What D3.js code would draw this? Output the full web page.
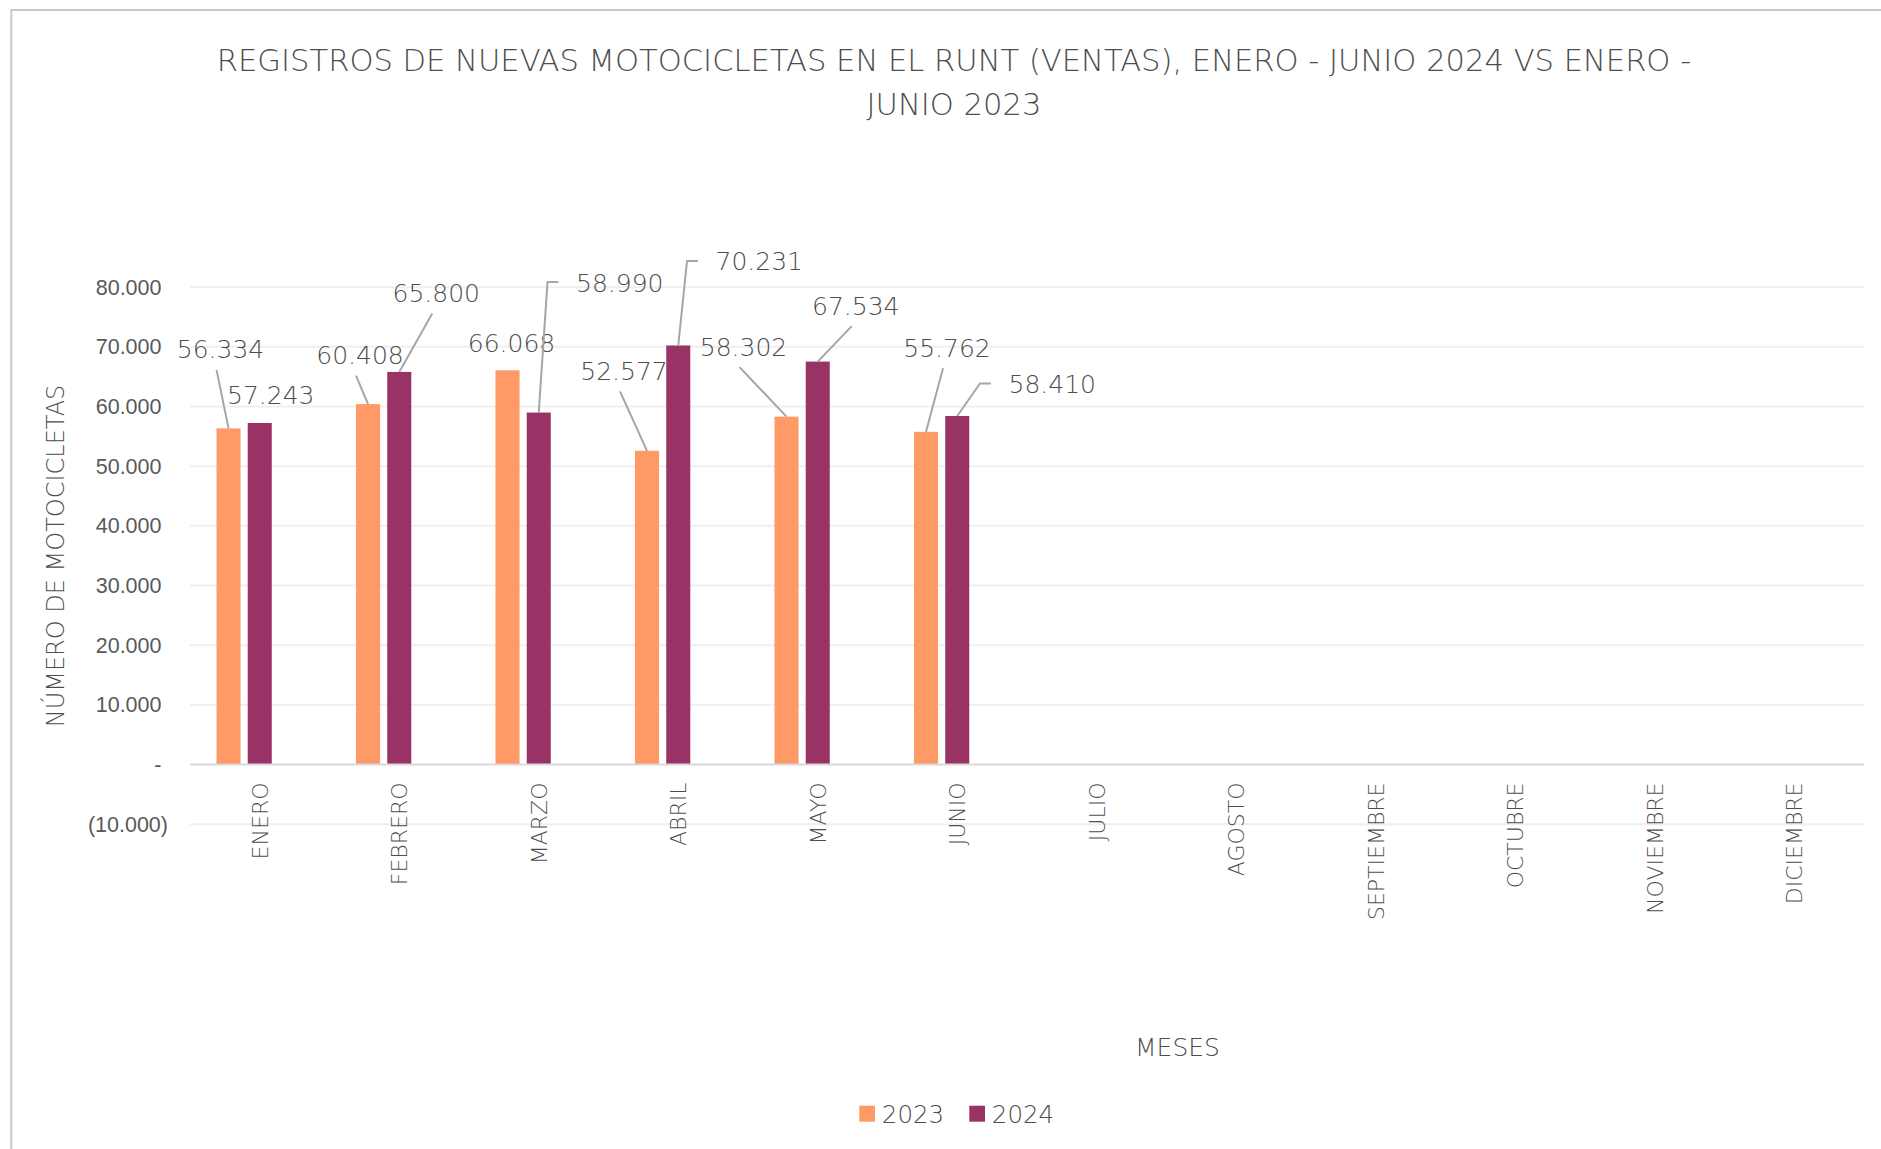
<!DOCTYPE html>
<html>
<head>
<meta charset="utf-8">
<script src="https://cdn.jsdelivr.net/npm/d3@7/dist/d3.min.js"></script>
<style>
  body { margin: 0; background: #fff; }
  text { font-family: "DejaVu Sans", sans-serif; fill: #4d4d4d; }
  .ytick text { font-family: "Liberation Sans", sans-serif; fill: #595959; }
</style>
</head>
<body>
<div id="chart"></div>
<script>
// chart data
var months = ["ENERO", "FEBRERO", "MARZO", "ABRIL", "MAYO", "JUNIO",
              "JULIO", "AGOSTO", "SEPTIEMBRE", "OCTUBRE", "NOVIEMBRE", "DICIEMBRE"];
var ventas2023 = [56334, 60408, 66068, 52577, 58302, 55762];
var ventas2024 = [57243, 65800, 58990, 70231, 67534, 58410];
var yTicks = [-10000, 0, 10000, 20000, 30000, 40000, 50000, 60000, 70000, 80000];
var seriesNames = ["2023", "2024"];
var titleLines = ["REGISTROS DE NUEVAS MOTOCICLETAS EN EL RUNT (VENTAS), ENERO - JUNIO 2024 VS ENERO -",
                  "JUNIO 2023"];

var colors = {"2023": "#FF9966", "2024": "#993366"};

// hand placed data labels (offset of label centre from bar top), as in the excel sheet
var labelNudge2023 = [[-8, -79], [-8, -49], [4, -27], [-23, -80], [-43, -70], [21, -84]];
var labelNudge2024 = [[11, -28], [37, -79], [81, -130], [81, -84], [38, -56], [95, -32]];

var width = 1881, height = 1149;
var margin = {top: 287.2, right: 17, bottom: 324.8, left: 190};

var svg = d3.select("#chart").append("svg")
    .attr("width", width)
    .attr("height", height);

// chart area border
svg.append("rect")
    .attr("x", 11.3).attr("y", 10)
    .attr("width", width + 20).attr("height", height + 20)
    .attr("fill", "none")
    .attr("stroke", "#C9C9C9")
    .attr("stroke-width", 2);

var x = d3.scaleBand()
    .domain(months)
    .range([margin.left, width - margin.right])
    .paddingInner(0.38)
    .paddingOuter(0.19);

// the sheet has a third, empty series slot in every cluster
var xSeries = d3.scaleBand()
    .domain(seriesNames.concat(["vacía"]))
    .range([0, x.bandwidth()])
    .paddingInner(0.23);

var y = d3.scaleLinear()
    .domain([0, 80000])
    .range([764.5, margin.top]);

var locale = d3.formatLocale({decimal: ",", thousands: ".", grouping: [3], currency: ["$", ""]});
var fmt = locale.format(",.0f");
function tickFmt(v) {
    if (v === 0) return "-";
    if (v < 0) return "(" + fmt(-v) + ")";
    return fmt(v);
}

// gridlines
svg.append("g")
    .selectAll("line")
    .data(yTicks.filter(function(d) { return d !== 0; }))
    .enter().append("line")
    .attr("x1", margin.left).attr("x2", width - margin.right)
    .attr("y1", function(d) { return y(d); })
    .attr("y2", function(d) { return y(d); })
    .attr("stroke", "#EFEFEF")
    .attr("stroke-width", 2);

// y axis labels
var yAxis = svg.append("g")
    .attr("class", "ytick")
    .attr("transform", "translate(168,0)")
    .call(d3.axisLeft(y).tickValues(yTicks).tickFormat(tickFmt).tickSize(0).tickPadding(0));
yAxis.select(".domain").remove();
yAxis.selectAll("text")
    .style("font-size", "21.5px")
    .attr("dx", function(d) { return d < 0 ? 0 : -6.5; });

// data
var rows = [];
ventas2023.forEach(function(v, i) {
    rows.push({month: months[i], serie: "2023", value: v, nudge: labelNudge2023[i]});
});
ventas2024.forEach(function(v, i) {
    rows.push({month: months[i], serie: "2024", value: v, nudge: labelNudge2024[i]});
});

function barCx(d) { return x(d.month) + xSeries(d.serie) + xSeries.bandwidth() / 2; }

svg.append("g")
    .selectAll(".bar")
    .data(rows)
    .enter().append("rect")
    .attr("class", "bar")
    .attr("x", function(d) { return x(d.month) + xSeries(d.serie); })
    .attr("y", function(d) { return y(d.value); })
    .attr("width", xSeries.bandwidth())
    .attr("height", function(d) { return y(0) - y(d.value); })
    .attr("fill", function(d) { return colors[d.serie]; });

// zero line
svg.append("line")
    .attr("x1", margin.left).attr("x2", width - margin.right)
    .attr("y1", y(0)).attr("y2", y(0))
    .attr("stroke", "#D9D9D9")
    .attr("stroke-width", 2);

// month labels
svg.append("g")
    .selectAll("text")
    .data(months)
    .enter().append("text")
    .attr("transform", function(d) {
        return "translate(" + (x(d) + x.bandwidth() / 2) + "," + (y(0) + 18) + ") rotate(-90)";
    })
    .attr("text-anchor", "end")
    .attr("dy", "0.36em")
    .attr("font-size", 22)
    .attr("font-weight", 300)
    .text(function(d) { return d; });

// leader lines + data labels
var labelG = svg.append("g");
rows.forEach(function(d) {
    var bx = barCx(d), by = y(d.value);
    var lx = bx + d.nudge[0], ly = by + d.nudge[1];
    var t = labelG.append("text")
        .attr("x", lx).attr("y", ly)
        .attr("text-anchor", "middle")
        .attr("dy", "0.36em")
        .attr("font-size", 25)
        .attr("font-weight", 300)
        .text(fmt(d.value));
    var half = t.node().getComputedTextLength() / 2;
    var path = null;
    if (lx - half > bx + 10) {
        var sx = lx - half - 17.5;
        path = [[sx, ly - 0.5], [sx - 11, ly - 0.5], [bx, by]];
    } else if (d.nudge[1] < -35) {
        path = [[lx - 4, ly + 20.5], [bx, by]];
    }
    if (path) {
        labelG.append("path")
            .attr("d", d3.line()(path))
            .attr("fill", "none")
            .attr("stroke", "#A6A6A6")
            .attr("stroke-width", 2);
    }
});

// title
var title = svg.append("text")
    .attr("text-anchor", "middle")
    .attr("font-size", 28)
    .attr("font-weight", 300);
title.append("tspan").attr("x", 954).attr("y", 70.5).text(titleLines[0]);
title.append("tspan").attr("x", 954).attr("y", 114.5).text(titleLines[1]);
var w0 = title.select("tspan").node().getComputedTextLength();
title.attr("font-size", 28 * 1475 / w0);

// axis titles
svg.append("text")
    .attr("transform", "translate(55.5,556) rotate(-90)")
    .attr("text-anchor", "middle")
    .attr("dy", "0.36em")
    .attr("font-size", 24)
    .attr("font-weight", 300)
    .text("NÚMERO DE MOTOCICLETAS");

svg.append("text")
    .attr("x", 1177.5).attr("y", 1056)
    .attr("text-anchor", "middle")
    .attr("font-size", 25)
    .attr("font-weight", 300)
    .text("MESES");

// legend
var legendX = d3.scaleOrdinal().domain(seriesNames).range([859.3, 969.3]);
var legend = svg.append("g")
    .selectAll("g")
    .data(seriesNames)
    .enter().append("g")
    .attr("transform", function(d) { return "translate(" + legendX(d) + ",1105.7)"; });
legend.append("rect")
    .attr("width", 15.7).attr("height", 16)
    .attr("fill", function(d) { return colors[d]; });
legend.append("text")
    .attr("x", 22.5).attr("y", 17.6)
    .attr("font-size", 24.5)
    .attr("font-weight", 300)
    .text(function(d) { return d; });
</script>
</body>
</html>
